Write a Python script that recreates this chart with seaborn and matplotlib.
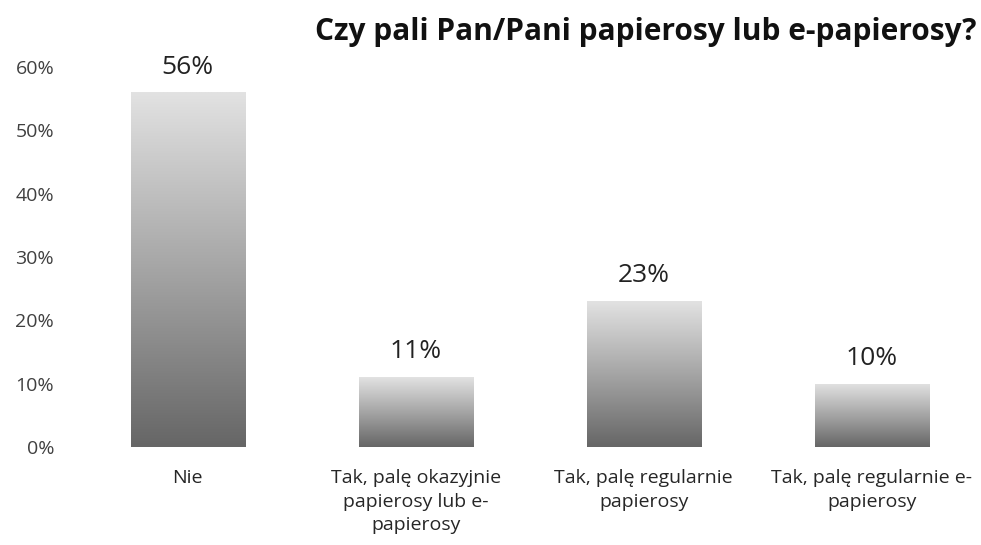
import numpy as np
import pandas as pd
import matplotlib
matplotlib.use("Agg")
import matplotlib.pyplot as plt
from matplotlib.colors import LinearSegmentedColormap
import seaborn as sns

categories = ["Nie",
              "Tak, palę okazyjnie\npapierosy lub e-\npapierosy",
              "Tak, palę regularnie\npapierosy",
              "Tak, palę regularnie e-\npapierosy"]
values = [0.56, 0.11, 0.23, 0.10]
labels = ["56%", "11%", "23%", "10%"]
yticks = [0, 0.1, 0.2, 0.3, 0.4, 0.5, 0.6]

df = pd.DataFrame({"cat": categories, "val": values})

sns.set_theme(style="white")
plt.rcParams["font.family"] = ["Open Sans", "DejaVu Sans"]

fig = plt.figure(figsize=(9.81, 5.45), dpi=100)
ax = fig.add_axes([0.075, 0.18, 0.93, 0.697])
sns.barplot(data=df, x="cat", y="val", width=0.5, color="#999999", ax=ax)

# gradient fill: dark at the bottom, light at the top of each bar
cmap = LinearSegmentedColormap.from_list("g", ["#666666", "#a5a5a5", "#e2e2e2"])
grad = np.linspace(0, 1, 256).reshape(-1, 1)
for p in ax.patches:
    x0, y0 = p.get_x(), p.get_y()
    w, h = p.get_width(), p.get_height()
    p.set_facecolor("none")
    p.set_edgecolor("none")
    im = ax.imshow(grad, cmap=cmap, origin="lower", aspect="auto",
                   extent=[x0, x0 + w, y0, y0 + h], zorder=2)
    im.set_clip_path(p)

ax.set_xlim(-0.5, 3.5)
ax.set_ylim(0, 0.6)
ax.set_yticks(yticks)
ax.set_yticklabels([f"{int(t*100)}%" for t in yticks], fontsize=14, color="#404040")
ax.tick_params(axis="y", length=0, pad=14)
ax.tick_params(axis="x", length=0, pad=16, labelsize=14, colors="#262626")
for lbl in ax.get_xticklabels():
    lbl.set_linespacing(1.4)
ax.set_xlabel("")
ax.set_ylabel("")
for s in ax.spines.values():
    s.set_visible(False)

for i, v in enumerate(values):
    ax.text(i, v + 0.04, labels[i], ha="center", va="center", fontsize=19,
            color="#222222", clip_on=False)

fig.text(0.658, 0.942, "Czy pali Pan/Pani papierosy lub e-papierosy?",
         ha="center", va="center", fontsize=21.5, fontweight="bold", color="#111111")

fig.savefig("out.png", dpi=100, facecolor="white")
